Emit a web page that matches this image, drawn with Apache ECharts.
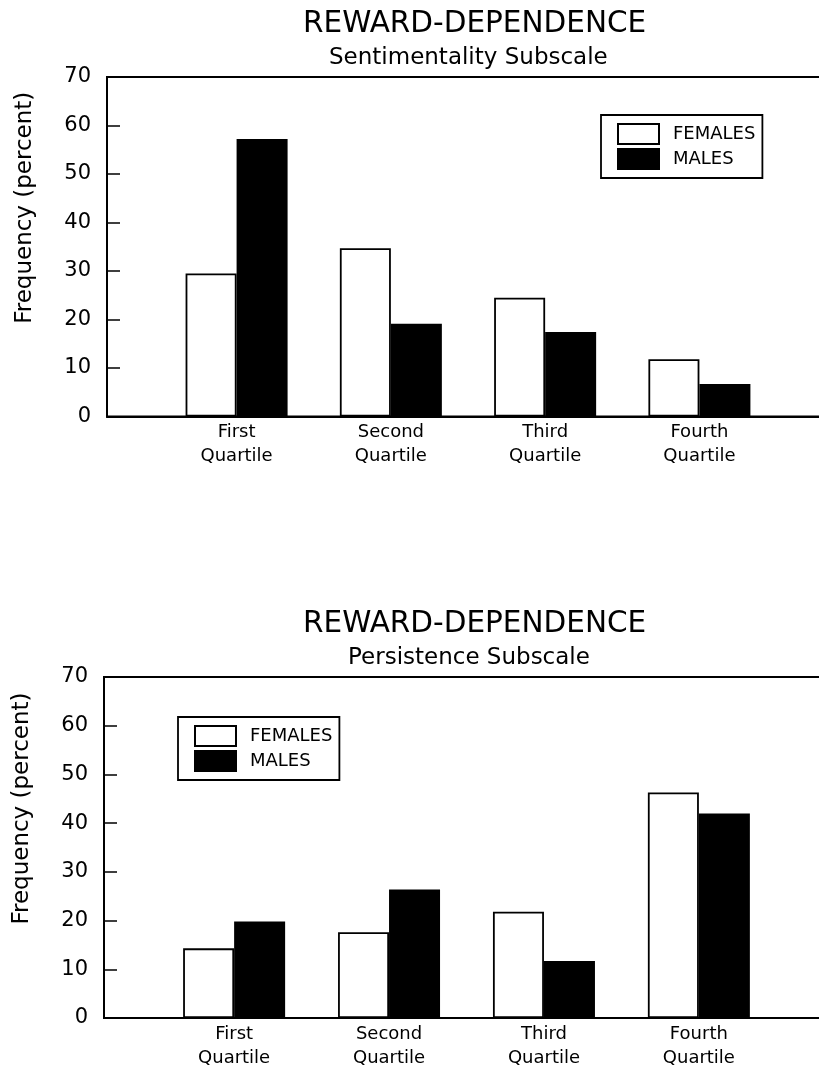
<!DOCTYPE html>
<html>
<head>
<meta charset="utf-8">
<script src="https://cdn.jsdelivr.net/npm/echarts@6/dist/echarts.min.js"></script>
<style>
  html, body { margin: 0; padding: 0; background: #fff; }
  #main { width: 819px; height: 1066px; }
</style>
</head>
<body>
<div id="main"></div>
<script>
// quartile groups along the x axis
var categories = ['First\nQuartile', 'Second\nQuartile', 'Third\nQuartile', 'Fourth\nQuartile'];
var yTicks = [0, 10, 20, 30, 40, 50, 60, 70];

// Sentimentality subscale, frequency in percent
var sentFemales = [29.5, 34.7, 24.5, 11.8];
var sentMales = [57.2, 19.1, 17.4, 6.7];

// Persistence subscale, frequency in percent
var persFemales = [14.3, 17.6, 21.8, 46.3];
var persMales = [19.8, 26.4, 11.7, 42.0];

var FONT = 'DejaVu Sans';
var positions = categories.map(function (c, i) { return i + 1; });

function xAxisFor(idx) {
  return {
    type: 'value', gridIndex: idx,
    min: 0.16, max: 4.84,
    axisLine: { show: true, onZero: false, lineStyle: { color: '#000', width: 2 } },
    axisTick: { show: false },
    splitLine: { show: false },
    axisLabel: {
      customValues: positions,
      formatter: function (v) { return categories[Math.round(v) - 1] || ''; },
      color: '#000', fontFamily: FONT, fontSize: 18, lineHeight: 24, margin: 4
    }
  };
}

function yAxisFor(idx) {
  return {
    type: 'value', gridIndex: idx,
    min: yTicks[0], max: yTicks[yTicks.length - 1], interval: yTicks[1] - yTicks[0],
    name: 'Frequency (percent)',
    nameLocation: 'middle', nameGap: 70,
    nameTextStyle: { color: '#000', fontFamily: FONT, fontSize: 23, padding: [0, 0, 0, 78] },
    axisLine: { show: true, lineStyle: { color: '#000', width: 2 } },
    axisTick: { show: true, inside: true, length: 13, lineStyle: { color: '#000', width: 1.5 } },
    splitLine: { show: false },
    axisLabel: { color: '#000', fontFamily: FONT, fontSize: 21, margin: 16 }
  };
}

function bars(name, values, idx, fill) {
  return {
    type: 'bar', name: name,
    xAxisIndex: idx, yAxisIndex: idx,
    data: values.map(function (v, i) { return [positions[i], v]; }),
    barWidth: 51, barGap: '0%',
    itemStyle: { color: fill, borderColor: '#000', borderWidth: 1.8 }
  };
}

function legendFor(left, top) {
  return {
    orient: 'vertical', left: left, top: top,
    data: ['FEMALES', 'MALES'],
    icon: 'rect',
    itemWidth: 41, itemHeight: 20, itemGap: 3,
    padding: [8, 7, 8, 16],
    borderColor: '#000', borderWidth: 1.8,
    textStyle: { color: '#000', fontFamily: FONT, fontSize: 18, lineHeight: 20, padding: [0, 0, 0, 9] },
    selectedMode: false
  };
}

var chart = echarts.init(document.getElementById('main'));

var option = {
  backgroundColor: '#fff',
  animation: false,
  title: [
    { text: 'REWARD-DEPENDENCE', left: 298, top: 4,
      textStyle: { color: '#000', fontFamily: FONT, fontSize: 29.5, fontWeight: 'normal' } },
    { text: 'Sentimentality Subscale', left: 324, top: 42,
      textStyle: { color: '#000', fontFamily: FONT, fontSize: 23, fontWeight: 'normal' } },
    { text: 'REWARD-DEPENDENCE', left: 298, top: 604,
      textStyle: { color: '#000', fontFamily: FONT, fontSize: 29.5, fontWeight: 'normal' } },
    { text: 'Persistence Subscale', left: 343, top: 642,
      textStyle: { color: '#000', fontFamily: FONT, fontSize: 23, fontWeight: 'normal' } }
  ],
  legend: [legendFor(601, 115), legendFor(178, 717)],
  grid: [
    { left: 107, top: 77, right: -10, height: 339.5, show: true, borderColor: '#000', borderWidth: 2,
      outerBoundsMode: 'none' },
    { left: 104, top: 677, right: -10, height: 341, show: true, borderColor: '#000', borderWidth: 2,
      outerBoundsMode: 'none' }
  ],
  xAxis: [xAxisFor(0), xAxisFor(1)],
  yAxis: [yAxisFor(0), yAxisFor(1)],
  series: [
    bars('FEMALES', sentFemales, 0, '#fff'),
    bars('MALES', sentMales, 0, '#000'),
    bars('FEMALES', persFemales, 1, '#fff'),
    bars('MALES', persMales, 1, '#000')
  ]
};

chart.setOption(option);
</script>
</body>
</html>
